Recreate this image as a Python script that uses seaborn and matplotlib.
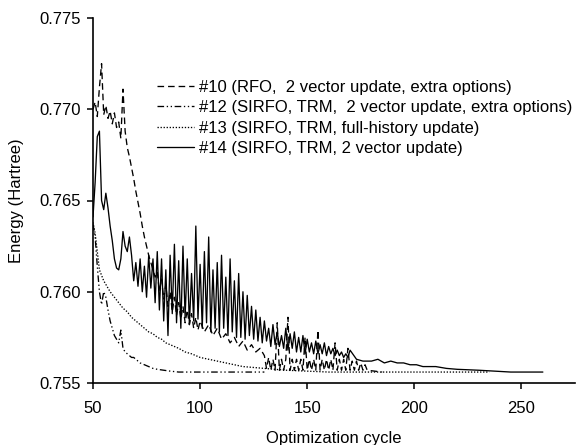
import matplotlib
matplotlib.use("Agg")
import matplotlib.pyplot as plt
import seaborn as sns
import pandas as pd

# --- data (cycle, energy in Hartree) ---

# #10 RFO, 2 vector update, extra options (dashed)
cyc10 = list(range(50, 101)) + [102, 104, 106, 108, 110, 112, 114, 116, 118, 120,
                                 122, 124, 126, 128] + list(range(130, 179)) + [185]
e10 = [0.7700, 0.7704, 0.7696, 0.7712, 0.7725, 0.7697, 0.7702, 0.7695, 0.7699, 0.7692,
       0.7698, 0.7690, 0.7693, 0.7684, 0.7711, 0.7688, 0.7679, 0.7674, 0.7668, 0.7662,
       0.7655, 0.7649, 0.7643, 0.7636, 0.7630, 0.7625, 0.7620, 0.7616, 0.7612, 0.7608,
       0.7611, 0.7600, 0.7607, 0.7596, 0.7604, 0.7592, 0.7600, 0.7589, 0.7597, 0.7587,
       0.7594, 0.7585, 0.7592, 0.7583, 0.7590, 0.7582, 0.7588, 0.7580, 0.7586, 0.7579,
       0.7584,
       0.7578, 0.7582, 0.7576, 0.7580, 0.7574, 0.7577, 0.7572, 0.7575, 0.7570, 0.7573,
       0.7568, 0.7571, 0.7567, 0.7569,
       0.7565, 0.7558, 0.7564, 0.7557, 0.7563, 0.7557, 0.7583, 0.7557, 0.7563, 0.7557,
       0.7563, 0.7586, 0.7557, 0.7563, 0.7557, 0.7563, 0.7557, 0.7563, 0.7557, 0.7575,
       0.7557, 0.7563, 0.7557, 0.7563, 0.7557, 0.7579, 0.7557, 0.7563, 0.7557, 0.7563,
       0.7557, 0.7563, 0.7557, 0.7572, 0.7557, 0.7563, 0.7557, 0.7563, 0.7557, 0.7569,
       0.7557, 0.7562, 0.7557, 0.7562, 0.7557, 0.7561, 0.7557, 0.7560, 0.7557,
       0.7556]

# #12 SIRFO, TRM, 2 vector update, extra options (dash-dot-dot)
cyc12 = [50, 51, 52, 53, 54, 55, 56, 57, 58, 59, 60, 61, 62, 63, 64, 65, 66, 67, 68,
         69, 70, 72, 74, 76, 78, 80, 83, 86, 90, 100, 110, 120, 130]
e12 = [0.7637, 0.7630, 0.7614, 0.7600, 0.7593, 0.7600, 0.7597, 0.7590, 0.7584, 0.7580,
       0.7576, 0.7574, 0.7572, 0.7579, 0.7569, 0.7567, 0.7566, 0.7565, 0.7564, 0.7564,
       0.7563, 0.7561, 0.7560, 0.7559, 0.7558, 0.75575, 0.7557, 0.75565, 0.7556, 0.7556,
       0.7556, 0.7556, 0.7556]

# #13 SIRFO, TRM, full-history update (dotted)
cyc13 = [50, 51, 52, 53, 54, 55, 56, 58, 60, 62, 64, 66, 68, 70, 72, 74, 76, 78, 80,
         82, 84, 86, 88, 90, 93, 96, 100, 104, 108, 112, 116, 120, 125, 130, 135, 140,
         150, 160, 175, 200, 235]
e13 = [0.7638, 0.7632, 0.7622, 0.7612, 0.7609, 0.7606, 0.7604, 0.7600, 0.7597, 0.7594,
       0.7591, 0.7589, 0.7586, 0.7584, 0.7582, 0.7580, 0.7578, 0.7577, 0.7575, 0.7574,
       0.7572, 0.7571, 0.7570, 0.7569, 0.7567, 0.7566, 0.7564, 0.7563, 0.7562, 0.7561,
       0.7560, 0.7559, 0.75585, 0.7558, 0.75575, 0.7557, 0.75565, 0.7556, 0.7556, 0.7556,
       0.7556]

# #14 SIRFO, TRM, 2 vector update (solid)
cyc14 = list(range(50, 171)) + [173, 176, 180, 183, 186, 189, 192, 195, 198, 201, 204,
                                 207, 210, 215, 220, 230, 245, 260]
e14 = [0.7641, 0.7660, 0.7685, 0.7688, 0.7650, 0.7645, 0.7654, 0.7646, 0.7636, 0.7628,
       0.7618, 0.7613, 0.7612, 0.7618, 0.7633, 0.7625, 0.7622, 0.7630, 0.7620, 0.7606,
       0.7616, 0.7603, 0.7618, 0.7600, 0.7614, 0.7597, 0.7620, 0.7602, 0.7618, 0.7594,
       0.7622, 0.7590, 0.7618, 0.7584, 0.7612, 0.7576, 0.7620, 0.7588, 0.7626, 0.7583,
       0.7617, 0.7580, 0.7625, 0.7586, 0.7618, 0.7582, 0.7610, 0.7584, 0.7636, 0.7585,
       0.7615, 0.7580, 0.7622, 0.7583, 0.7630, 0.7578, 0.7612, 0.7580, 0.7616, 0.7578,
       0.7620, 0.7580, 0.7608, 0.7576, 0.7618, 0.7578, 0.7606, 0.7575, 0.7610, 0.7575,
       0.7600, 0.7574, 0.7598, 0.7576, 0.7592, 0.7574, 0.7590, 0.7573, 0.7586, 0.7572,
       0.7584, 0.7573, 0.7580, 0.7570, 0.7582, 0.7571, 0.7578, 0.7570, 0.7576, 0.7569,
       0.7580, 0.7568, 0.7577, 0.7569, 0.7578, 0.7567, 0.7575, 0.7567, 0.7576, 0.7566,
       0.7574, 0.7567, 0.7572, 0.7566, 0.7573, 0.7566, 0.7571, 0.7566, 0.7572, 0.7565,
       0.7570, 0.7566, 0.7569, 0.7565, 0.7568, 0.7565, 0.7567, 0.7564, 0.7566, 0.7564,
       0.7568,
       0.7563, 0.7562, 0.7562, 0.7563, 0.7561, 0.7562, 0.7561, 0.7561, 0.7560, 0.7560,
       0.7559, 0.7559, 0.7559, 0.7558, 0.75575, 0.7557, 0.7556, 0.7556]

labels = ["#10 (RFO,  2 vector update, extra options)",
          "#12 (SIRFO, TRM,  2 vector update, extra options)",
          "#13 (SIRFO, TRM, full-history update)",
          "#14 (SIRFO, TRM, 2 vector update)"]
styles = [(0, (5, 3)), (0, (5, 2, 1, 2, 1, 2)), (0, (1, 1.3)), "-"]

sns.set_style("ticks")
plt.rcParams["font.family"] = ["Liberation Sans", "DejaVu Sans"]
plt.rcParams["font.size"] = 12
plt.rcParams["text.color"] = "black"
plt.rcParams["axes.labelcolor"] = "black"
plt.rcParams["xtick.color"] = "black"
plt.rcParams["ytick.color"] = "black"

fig = plt.figure(figsize=(5.79, 4.45), dpi=100)
ax = fig.add_axes([93 / 579, 1 - 383 / 445, (575 - 93) / 579, (383 - 18) / 445])

series = [(cyc10, e10), (cyc12, e12), (cyc13, e13), (cyc14, e14)]
for (xs, ys), lab, ls in zip(series, labels, styles):
    df = pd.DataFrame({"cycle": xs, "energy": ys})
    sns.lineplot(data=df, x="cycle", y="energy", ax=ax, color="black",
                 linewidth=0.95, linestyle=ls, label=lab, estimator=None)

ax.set_xlim(50, 275)
ax.set_ylim(0.755, 0.775)
ax.set_xticks([50, 100, 150, 200, 250])
ax.set_yticks([0.755, 0.760, 0.765, 0.770, 0.775])
ax.set_yticklabels(["0.755", "0.760", "0.765", "0.770", "0.775"])
ax.tick_params(direction="out", length=4, width=1.1, labelsize=12, color="black")
ax.tick_params(axis="x", pad=9)
ax.tick_params(axis="y", pad=5)
for s in ["left", "bottom"]:
    ax.spines[s].set_linewidth(1.2)
    ax.spines[s].set_color("black")
sns.despine(ax=ax)

ax.set_xlabel("Optimization cycle", fontsize=12, labelpad=11)
ax.set_ylabel("Energy (Hartree)", fontsize=12, labelpad=11)

ax.legend(loc="upper left", bbox_to_anchor=(157 / 579, 1 - 80 / 445),
          bbox_transform=fig.transFigure, frameon=False, fontsize=12,
          handlelength=2.2, handletextpad=0.3, labelspacing=0.32,
          borderpad=0, borderaxespad=0)

plt.savefig("out.png", dpi=100)
